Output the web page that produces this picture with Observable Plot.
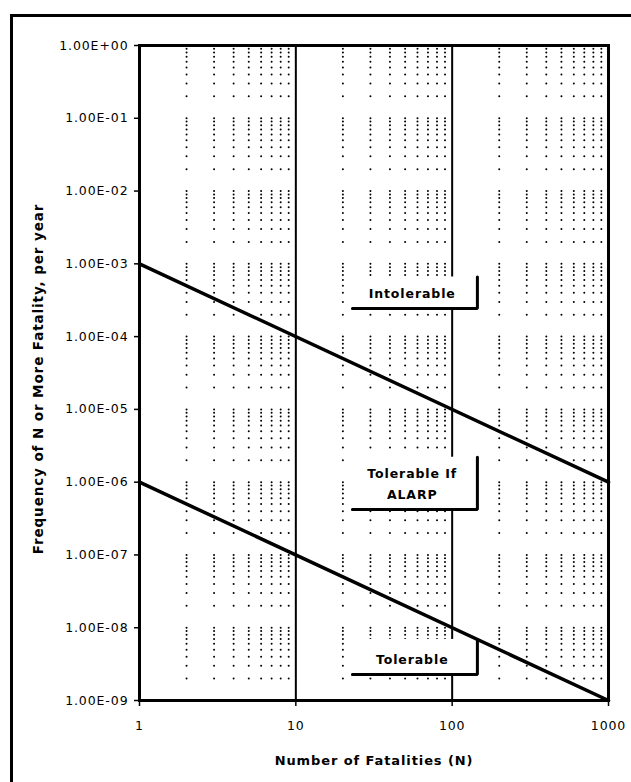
<!DOCTYPE html>
<html>
<head>
<meta charset="utf-8">
<script src="https://cdn.jsdelivr.net/npm/d3@7"></script>
<script src="https://cdn.jsdelivr.net/npm/@observablehq/plot@0.6"></script>
<style>
  html, body { margin: 0; padding: 0; background: #fff; overflow: hidden; }
  #wrap { position: relative; width: 631px; height: 782px; overflow: hidden; }
  #border { position: absolute; left: 10px; top: 14px; width: 800px; height: 900px;
            border-left: 3px solid #000; border-top: 3px solid #000; pointer-events: none; }
  #chart { position: absolute; left: 0; top: 0; }
  #chart svg text { letter-spacing: 0.9px; }
</style>
</head>
<body>
<div id="wrap"><div id="chart"></div><div id="border"></div></div>
<script>
// ---- data ----
const fatalities = [1, 1000];
const intolerableLimit = [1e-3, 1e-6];   // upper criterion line
const tolerableLimit = [1e-6, 1e-9];     // lower criterion line

const xTicks = [1, 10, 100, 1000];
const xTickLabels = ["1", "10", "100", "1000"];
const yTicks = [1, 1e-1, 1e-2, 1e-3, 1e-4, 1e-5, 1e-6, 1e-7, 1e-8, 1e-9];
const yTickLabels = ["1.00E+00", "1.00E-01", "1.00E-02", "1.00E-03", "1.00E-04",
                     "1.00E-05", "1.00E-06", "1.00E-07", "1.00E-08", "1.00E-09"];
const majorGridN = [10, 100];
const gridMantissas = [1, 2, 3, 4, 5, 6, 7, 8, 9];

const regionLabels = ["Intolerable", "Tolerable If\nALARP", "Tolerable"];
const labelN = [55.5, 55.5, 55.5];
const labelFreq = [4.3e-4, 1.02e-6, 3.9e-9];
const boxLeftN = [23, 23, 23];
const boxRightN = [145, 145, 145];
const boxTopFreq = [6.6e-4, 2.2e-6, 6.9e-9];
const boxBottomFreq = [2.43e-4, 4.2e-7, 2.28e-9];

const xTitle = "Number of Fatalities (N)";
const yTitle = "Frequency of N or More Fatality, per year";

// ---- derived tables ----
const limitLines = [
  ...fatalities.map((n, i) => ({n, f: intolerableLimit[i], s: "upper"})),
  ...fatalities.map((n, i) => ({n, f: tolerableLimit[i], s: "lower"}))
];
const gridX = [];
for (const dec of [1, 10, 100]) for (const m of gridMantissas) if (m > 1) gridX.push(m * dec);
const gridY = [1];
for (let e = 1; e <= 9; e++) for (const m of gridMantissas) gridY.push(m * Math.pow(10, -e));
const gridDots = [];
for (const gx of gridX) for (const gy of gridY) gridDots.push({gx, gy});

const boxes = regionLabels.map((t, i) => ({
  x1: boxLeftN[i], x2: boxRightN[i], y1: boxBottomFreq[i], y2: boxTopFreq[i]
}));
const boxEdges = [];
boxes.forEach((b, i) => {
  boxEdges.push({n: b.x1, f: b.y1, k: i});
  boxEdges.push({n: b.x2, f: b.y1, k: i});
  boxEdges.push({n: b.x2, f: b.y2, k: i});
});
const labels = regionLabels.map((t, i) => ({t, n: labelN[i], f: labelFreq[i]}));

const plot = Plot.plot({
  width: 631,
  height: 782,
  marginLeft: 139,
  marginRight: 23,
  marginTop: 45,
  marginBottom: 82,
  style: {fontFamily: "DejaVu Sans", fontSize: "12.5px", background: "#fff", color: "#000"},
  x: {type: "log", domain: [1, 1000]},
  y: {type: "log", domain: [1e-9, 1]},
  marks: [
    Plot.dot(gridDots, {x: "gx", y: "gy", r: 1, fill: "#000", stroke: "none"}),
    Plot.ruleX(majorGridN, {stroke: "#000", strokeWidth: 2}),
    Plot.rect(boxes, {x1: "x1", x2: "x2", y1: "y1", y2: "y2", fill: "#fff"}),
    Plot.line(boxEdges, {x: "n", y: "f", z: "k", stroke: "#000", strokeWidth: 3, strokeLinejoin: "miter"}),
    Plot.text(labels, {x: "n", y: "f", text: "t", fontWeight: "bold", fontSize: 12.5, lineHeight: 1.75, lineAnchor: "middle", fill: "#000"}),
    Plot.line(limitLines, {x: "n", y: "f", z: "s", stroke: "#000", strokeWidth: 3.5}),
    Plot.frame({stroke: "#000", strokeWidth: 3}),
    Plot.axisX({ticks: xTicks, tickFormat: d => xTickLabels[xTicks.indexOf(d)], tickSize: 6, tickPadding: 15, label: null, fontSize: 12.5, strokeWidth: 1.5}),
    Plot.axisY({ticks: yTicks, tickFormat: d => yTickLabels[yTicks.findIndex(v => Math.abs(v - d) / d < 1e-6)], tickSize: 5, tickPadding: 6, label: null, fontSize: 12.5, strokeWidth: 1.5}),
    Plot.text([xTitle], {frameAnchor: "bottom", dy: 64, fontWeight: "bold", fontSize: 13, fill: "#000"}),
    Plot.text([yTitle], {frameAnchor: "left", textAnchor: "middle", dx: -101, dy: 6, rotate: -90, fontWeight: "bold", fontSize: 13.5, fill: "#000"})
  ]
});
document.getElementById("chart").appendChild(plot);
</script>
</body>
</html>
